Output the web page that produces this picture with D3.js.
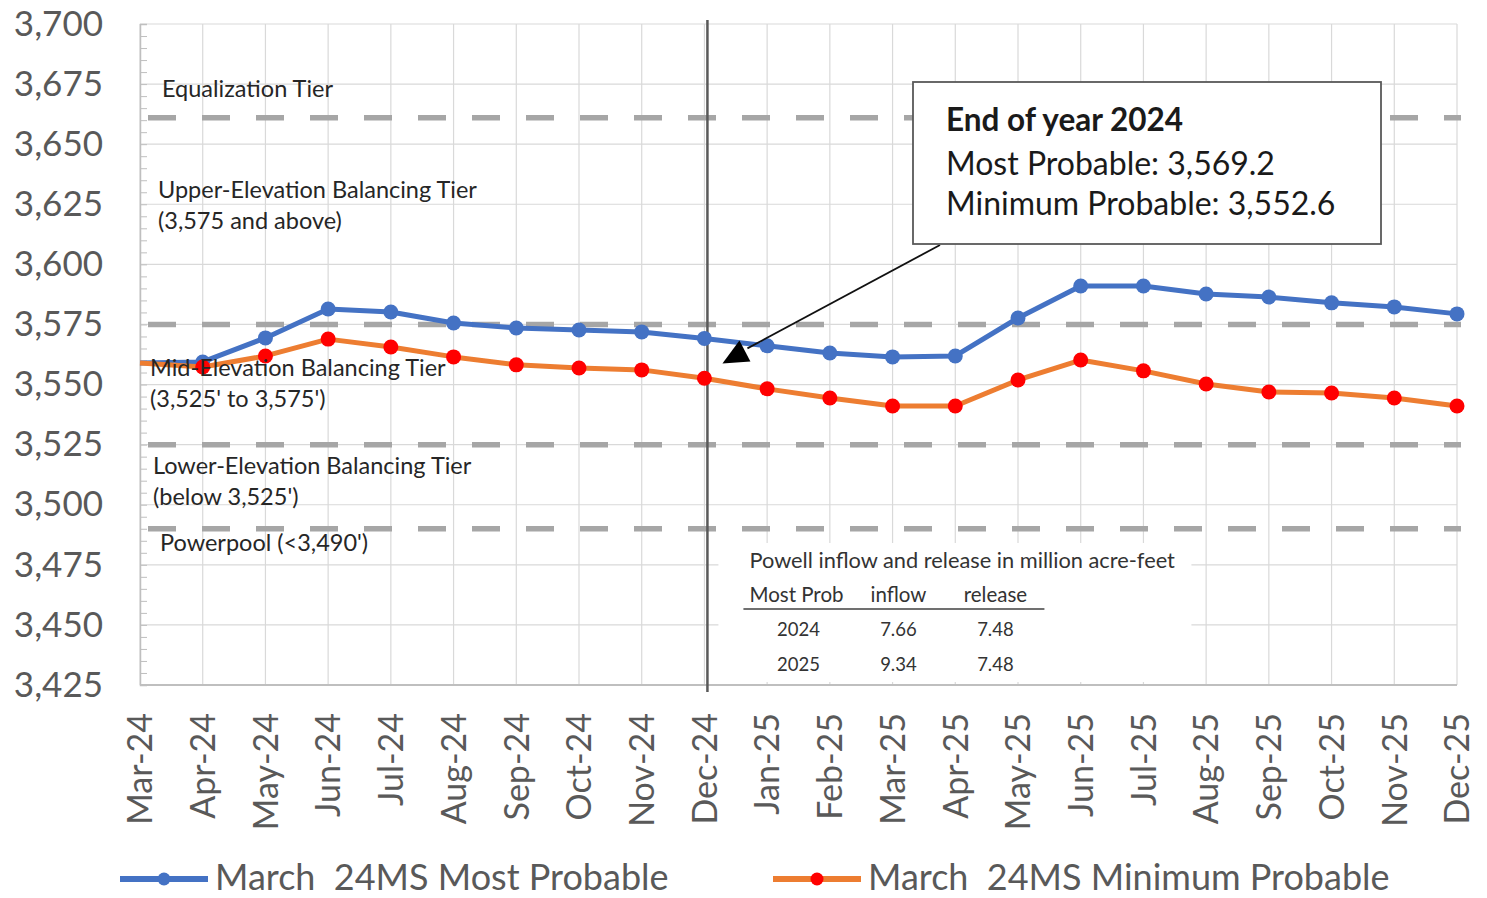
<!DOCTYPE html>
<html>
<head>
<meta charset="utf-8">
<script src="https://cdn.jsdelivr.net/npm/d3@7"></script>
<style>
  body { margin: 0; background: #fff; }
  svg text { font-family: Lato, "Open Sans", sans-serif; }
</style>
</head>
<body>
<div id="chart"></div>
<script>
//Lake Powell end-of-month elevations, March 24MS run

var months = ["Mar-24", "Apr-24", "May-24", "Jun-24", "Jul-24", "Aug-24", "Sep-24", "Oct-24", "Nov-24", "Dec-24",
  "Jan-25", "Feb-25", "Mar-25", "Apr-25", "May-25", "Jun-25", "Jul-25", "Aug-25", "Sep-25", "Oct-25", "Nov-25", "Dec-25"];

var mostProbable = [3559.0, 3559.4, 3569.4, 3581.4, 3580.2, 3575.6, 3573.5, 3572.7, 3571.9, 3569.2,
  3566.1, 3563.1, 3561.5, 3561.9, 3577.7, 3591.0, 3591.0, 3587.7, 3586.4, 3584.0, 3582.3, 3579.4];

var minProbable = [3559.0, 3557.3, 3561.9, 3568.9, 3565.6, 3561.5, 3558.2, 3556.9, 3556.1, 3552.6,
  3548.2, 3544.4, 3541.1, 3541.1, 3551.9, 3560.2, 3555.7, 3550.2, 3546.9, 3546.5, 3544.4, 3541.1];

var seriesNames = ["March  24MS Most Probable", "March  24MS Minimum Probable"];

var yTicks = [3425, 3450, 3475, 3500, 3525, 3550, 3575, 3600, 3625, 3650, 3675, 3700];

//tier boundary lines and their labels
var tierLevels = [3661, 3575, 3525, 3490];
var tierLabels = [
  ["Equalization Tier"],
  ["Upper-Elevation Balancing Tier", "(3,575 and above)"],
  ["Mid-Elevation Balancing Tier", "(3,525' to 3,575')"],
  ["Lower-Elevation Balancing Tier", "(below 3,525')"],
  ["Powerpool (<3,490')"]
];
var tierLabelLevels = [3673, 3631, 3557, 3516, 3484];

//inflow / release table
var tableTitle = "Powell inflow and release in million acre-feet";
var tableHeader = ["Most Prob", "inflow", "release"];
var tableYears = ["2024", "2025"];
var tableInflow = ["7.66", "9.34"];
var tableRelease = ["7.48", "7.48"];

var endOfYear = "Dec-24";

var width = 1487, height = 898;
// plot area edges (window.top is reserved, so use own names)
var pLeft = 140, pRight = 1457, pTop = 24, pBottom = 685;

var svg = d3.select("#chart").append("svg")
  .attr("width", width)
  .attr("height", height);

var x = d3.scalePoint().domain(months).range([pLeft, pRight]);
var y = d3.scaleLinear().domain([3425, 3700]).range([pBottom, pTop]);

var blue = "#4472c4", orange = "#ed7d31", red = "#ff0000";
var grey = "#595959";

//gridlines
svg.append("g").selectAll("line").data(months).enter().append("line")
  .attr("x1", function(d) { return x(d); }).attr("x2", function(d) { return x(d); })
  .attr("y1", pTop).attr("y2", pBottom)
  .attr("stroke", "#d9d9d9").attr("stroke-width", 1.2);

svg.append("g").selectAll("line").data(yTicks).enter().append("line")
  .attr("x1", pLeft).attr("x2", pRight)
  .attr("y1", function(d) { return y(d); }).attr("y2", function(d) { return y(d); })
  .attr("stroke", "#d9d9d9").attr("stroke-width", 1.2);

//minor ticks on the value axis, every 5 ft
var minorAxis = d3.axisRight(y).tickValues(d3.range(3425, 3701, 5)).tickSize(7).tickFormat("");
svg.append("g").attr("transform", "translate(" + pLeft + ",0)").call(minorAxis)
  .call(function(g) { g.select(".domain").attr("stroke", "#bfbfbf").attr("stroke-width", 1.5); })
  .call(function(g) { g.selectAll(".tick line").attr("stroke", "#bfbfbf"); });

//y tick labels
var yAxis = d3.axisLeft(y).tickValues(yTicks).tickSize(0).tickPadding(37).tickFormat(d3.format(","));
svg.append("g").attr("transform", "translate(" + pLeft + ",0)").call(yAxis)
  .call(function(g) { g.select(".domain").remove(); })
  .call(function(g) {
    g.selectAll("text").attr("fill", grey).attr("font-size", 35).attr("font-family", "Lato, sans-serif");
  });

//bottom axis
svg.append("line").attr("x1", pLeft).attr("x2", pRight).attr("y1", pBottom).attr("y2", pBottom)
  .attr("stroke", "#bfbfbf").attr("stroke-width", 2);

svg.append("g").selectAll("text").data(months).enter().append("text")
  .attr("transform", function(d) { return "translate(" + x(d) + "," + (pBottom + 28) + ") rotate(-90)"; })
  .attr("text-anchor", "end")
  .attr("dy", "0.36em")
  .attr("font-size", 34)
  .attr("fill", grey)
  .text(function(d) { return d; });

//tier dashed lines
svg.append("g").selectAll("line").data(tierLevels).enter().append("line")
  .attr("x1", pLeft + 8).attr("x2", pRight + 4)
  .attr("y1", function(d) { return y(d); }).attr("y2", function(d) { return y(d); })
  .attr("stroke", "#a6a6a6").attr("stroke-width", 5.5)
  .attr("stroke-dasharray", "28,26");

//end of year marker line
svg.append("line")
  .attr("x1", x(endOfYear) + 3).attr("x2", x(endOfYear) + 3)
  .attr("y1", pTop - 4).attr("y2", pBottom + 7)
  .attr("stroke", grey).attr("stroke-width", 2.5);

//table with white background, covers the gridlines
var tx = x(endOfYear) + 14, ty = 543;
svg.append("rect").attr("x", tx).attr("y", ty).attr("width", 473).attr("height", 139).attr("fill", "#fff");
svg.append("text").attr("x", tx + 31).attr("y", ty + 17).attr("dy", "0.35em")
  .attr("font-size", 21.8).attr("fill", "#333").text(tableTitle);

var colX = [tx + 80, tx + 180, tx + 277];
svg.append("text").attr("x", tx + 31).attr("y", ty + 52).attr("dy", "0.35em")
  .attr("font-size", 20.5).attr("fill", "#333").text(tableHeader[0]);
svg.append("text").attr("x", colX[1]).attr("y", ty + 52).attr("dy", "0.35em").attr("text-anchor", "middle")
  .attr("font-size", 20.5).attr("fill", "#333").text(tableHeader[1]);
svg.append("text").attr("x", colX[2]).attr("y", ty + 52).attr("dy", "0.35em").attr("text-anchor", "middle")
  .attr("font-size", 20.5).attr("fill", "#333").text(tableHeader[2]);
svg.append("line").attr("x1", tx + 25).attr("x2", tx + 326).attr("y1", ty + 66).attr("y2", ty + 66)
  .attr("stroke", "#404040").attr("stroke-width", 1.5);

tableYears.forEach(function(yr, i) {
  var rowY = ty + 87 + i * 35;
  [yr, tableInflow[i], tableRelease[i]].forEach(function(s, j) {
    svg.append("text").attr("x", colX[j]).attr("y", rowY).attr("dy", "0.35em")
      .attr("text-anchor", "middle").attr("font-size", 18.5).attr("fill", "#333").text(s);
  });
});

//series lines
var line = d3.line()
  .x(function(d, i) { return x(months[i]); })
  .y(function(d) { return y(d); });

svg.append("path").datum(mostProbable).attr("d", line)
  .attr("fill", "none").attr("stroke", blue).attr("stroke-width", 5).attr("stroke-linejoin", "round");
svg.append("g").selectAll("circle").data(mostProbable.slice(1)).enter().append("circle")
  .attr("cx", function(d, i) { return x(months[i + 1]); })
  .attr("cy", function(d) { return y(d); })
  .attr("r", 7.5).attr("fill", blue);

svg.append("path").datum(minProbable).attr("d", line)
  .attr("fill", "none").attr("stroke", orange).attr("stroke-width", 5).attr("stroke-linejoin", "round");
svg.append("g").selectAll("circle").data(minProbable.slice(1)).enter().append("circle")
  .attr("cx", function(d, i) { return x(months[i + 1]); })
  .attr("cy", function(d) { return y(d); })
  .attr("r", 7.5).attr("fill", red);

//tier labels sit on top of the series
var labelX = [162, 158, 150, 153, 160];
tierLabels.forEach(function(lines, i) {
  var t = svg.append("text")
    .attr("x", labelX[i])
    .attr("y", y(tierLabelLevels[i]))
    .attr("font-size", 23.5)
    .attr("fill", "#262626");
  lines.forEach(function(s, j) {
    t.append("tspan").attr("x", labelX[i]).attr("dy", j == 0 ? "0.35em" : 31).text(s);
  });
});

//callout box with arrow
var fmt = d3.format(",.1f");
var idx = months.indexOf(endOfYear);
var bx = 913, by = 82;
svg.append("line").attr("x1", bx + 27).attr("y1", by + 163).attr("x2", x(endOfYear) + 43).attr("y2", y(mostProbable[idx]) + 10)
  .attr("stroke", "#111").attr("stroke-width", 1.8);
var ax = x(endOfYear) + 31, ay = y(mostProbable[idx]) + 15;
svg.append("path")
  .attr("d", "M" + (ax - 13) + "," + (ay + 10) + "L" + (ax + 15) + "," + (ay + 8) + "L" + (ax + 4) + "," + (ay - 13) + "Z")
  .attr("fill", "#000");

svg.append("rect").attr("x", bx).attr("y", by).attr("width", 468).attr("height", 162)
  .attr("fill", "#fff").attr("stroke", grey).attr("stroke-width", 1.8);
svg.append("text").attr("x", bx + 33).attr("y", by + 38).attr("dy", "0.35em")
  .attr("font-size", 31.5).attr("font-weight", "bold").attr("fill", "#1a1a1a").text("End of year 2024");
svg.append("text").attr("x", bx + 33).attr("y", by + 82).attr("dy", "0.35em")
  .attr("font-size", 32).attr("fill", "#1a1a1a").text("Most Probable: " + fmt(mostProbable[idx]));
svg.append("text").attr("x", bx + 33).attr("y", by + 122).attr("dy", "0.35em")
  .attr("font-size", 32).attr("fill", "#1a1a1a").text("Minimum Probable: " + fmt(minProbable[idx]));

//legend
var legendX = [120, 773];
var legendColors = [[blue, blue], [orange, red]];
seriesNames.forEach(function(name, i) {
  var g = svg.append("g").attr("transform", "translate(" + legendX[i] + ",877)");
  g.append("line").attr("x1", 0).attr("x2", 88).attr("y1", 2).attr("y2", 2).attr("stroke", legendColors[i][0]).attr("stroke-width", 6);
  g.append("circle").attr("cx", 44).attr("cy", 2).attr("r", 6.5).attr("fill", legendColors[i][1]);
  g.append("text").attr("x", 95).attr("dy", "0.35em").attr("font-size", 36).attr("fill", grey)
    .style("white-space", "pre").text(name);
});
</script>
</body>
</html>
